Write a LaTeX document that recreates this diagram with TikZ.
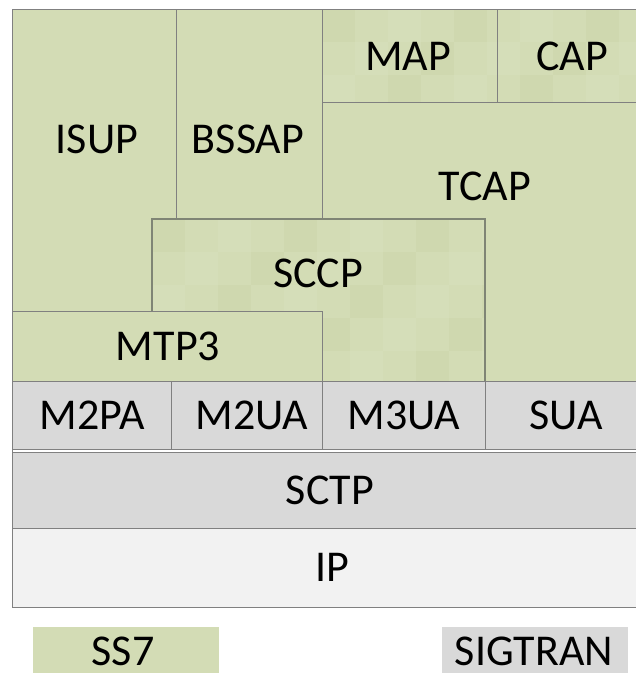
\documentclass[tikz,border=0pt]{standalone}
\usepackage{fontspec}
\setmainfont{Carlito}
\definecolor{ssgreen}{HTML}{D3DCB5}
\definecolor{texA}{HTML}{CAD4A8}
\definecolor{texB}{HTML}{DAE2C0}
\definecolor{sigray}{HTML}{D9D9D9}
\definecolor{iplight}{HTML}{F2F2F2}
\definecolor{edge}{HTML}{808080}
\definecolor{edgedark}{HTML}{7F8575}
\tikzset{
  lbl/.style={inner sep=0pt, font=\fontsize{44}{48}\selectfont, text=black},
  thinline/.style={draw=edge, line width=1pt},
  thickline/.style={draw=edgedark, line width=2pt},
}
\newcommand{\texturegrid}[2]{%
  \foreach \i in {0,...,20}{\foreach \j in {0,...,20}{%
    \pgfmathtruncatemacro{\k}{mod(\i*3+\j*7,4)}%
    \ifnum\k=0 \fill[texA,opacity=0.4] ({#1+\i*33},{#2+\j*33}) rectangle ++(33,33);\fi
    \ifnum\k=2 \fill[texB,opacity=0.4] ({#1+\i*33},{#2+\j*33}) rectangle ++(33,33);\fi
  }}}
\begin{document}
\begin{tikzpicture}[x=1pt,y=-1pt]
\useasboundingbox (0,0) rectangle (636,673);
% green SS7 area
\fill[ssgreen] (12,9) rectangle (636,381);
% textured MAP and CAP
\begin{scope}
  \clip (322,9) rectangle (636,102);
  \texturegrid{322}{9}
\end{scope}
% textured SCCP
\begin{scope}
  \clip (152,219) -- (485,219) -- (485,381) -- (322,381) -- (322,311) -- (152,311) -- cycle;
  \texturegrid{152}{219}
\end{scope}
% SIGTRAN rows
\fill[sigray] (12,381) rectangle (636,449);
\fill[sigray] (12,452) rectangle (636,528);
\fill[iplight] (12,528) rectangle (636,607);
% lines
\draw[thinline] (636,9) -- (12,9) -- (12,607) -- (636,607);
\draw[thinline] (176,9) -- (176,219);
\draw[thinline] (322,9) -- (322,219);
\draw[thinline] (322,102) -- (636,102);
\draw[thinline] (497,9) -- (497,102);
\draw[thickline] (152,311) -- (152,219) -- (485,219) -- (485,381);
\draw[thinline] (12,311) -- (322,311) -- (322,381);
\draw[thinline] (12,381) -- (636,381);
\draw[thinline] (12,449) -- (636,449);
\draw[thinline] (171,381) -- (171,449);
\draw[thinline] (322,381) -- (322,449);
\draw[thinline] (485,381) -- (485,449);
\draw[thinline] (12,452) -- (636,452);
\draw[thinline] (12,528) -- (636,528);
% legend boxes
\fill[ssgreen] (33,627) rectangle (219,673);
\fill[sigray] (442,627) rectangle (628,673);
% labels
\node[lbl] (isup) at (97,139) {ISUP};
\node[lbl] (bssap) at (248,139) {BSSAP};
\node[lbl] (map) at (408,56) {MAP};
\node[lbl] (cap) at (572,56) {CAP};
\node[lbl] (tcap) at (485,186) {TCAP};
\node[lbl] (sccp) at (318,273) {SCCP};
\node[lbl] (mtp3) at (168,346) {MTP3};
\node[lbl] (m2pa) at (92,415) {M2PA};
\node[lbl] (m2ua) at (252,415) {M2UA};
\node[lbl] (m3ua) at (404,415) {M3UA};
\node[lbl] (sua) at (566,415) {SUA};
\node[lbl] (sctp) at (330,490) {SCTP};
\node[lbl] (ip) at (332,567) {IP};
\node[lbl] (ss7) at (123,651) {SS7};
\node[lbl] (sigtran) at (534,651) {SIGTRAN};
\end{tikzpicture}
\end{document}
